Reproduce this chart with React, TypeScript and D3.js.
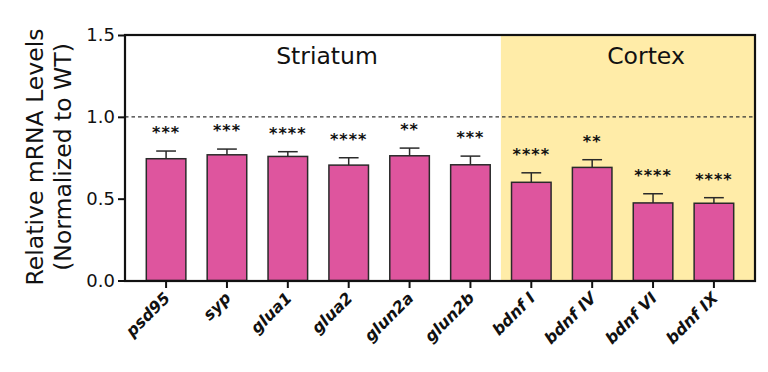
import React, { useEffect, useRef } from "react";
import * as d3 from "d3";

const genes = ["psd95", "syp", "glua1", "glua2", "glun2a", "glun2b", "bdnf I", "bdnf IV", "bdnf VI", "bdnf IX"];
const means = [0.744, 0.768, 0.758, 0.705, 0.762, 0.707, 0.6, 0.691, 0.474, 0.472];
const sems = [0.047, 0.035, 0.029, 0.045, 0.047, 0.053, 0.058, 0.047, 0.056, 0.034];
const stars = ["***", "***", "****", "****", "**", "***", "****", "**", "****", "****"];
const yTicks = [0, 0.5, 1.0, 1.5];
const regionNames = ["Striatum", "Cortex"];

const W = 768;
const H = 372;
const margin = { top: 35, right: 13, bottom: 91, left: 125 };
const font = "'DejaVu Sans', Verdana, sans-serif";

function App() {
  const svgRef = useRef(null);

  useEffect(() => {
    const svg = d3.select(svgRef.current);
    svg.selectAll("*").remove();

    const x0 = margin.left;
    const x1 = W - margin.right;
    const y0 = H - margin.bottom;
    const y1 = margin.top;

    const x = d3.scaleBand().domain(genes).range([x0, x1]).paddingInner(0.35).paddingOuter(0.35);
    const y = d3.scaleLinear().domain([0, 1.5]).range([y0 - 0.5, y1]);

    // cortex shading starts halfway between glun2b and bdnf I
    const split = (x("glun2b") + x.bandwidth() + x("bdnf I")) / 2;
    svg
      .append("rect")
      .attr("x", split)
      .attr("y", y1)
      .attr("width", x1 - split)
      .attr("height", y0 - y1)
      .attr("fill", "#FFECA8");

    svg
      .append("line")
      .attr("x1", x0)
      .attr("x2", x1)
      .attr("y1", y(1))
      .attr("y2", y(1))
      .attr("stroke", "#333")
      .attr("stroke-width", 1.3)
      .attr("stroke-dasharray", "3.5,3");

    // error bars (upper only)
    const eb = svg.append("g").attr("stroke", "#2a2a2a").attr("stroke-width", 1.5);
    genes.forEach((g, i) => {
      const cx = x(g) + x.bandwidth() / 2;
      eb.append("line").attr("x1", cx).attr("x2", cx).attr("y1", y(means[i])).attr("y2", y(means[i] + sems[i]));
      eb.append("line")
        .attr("x1", cx - x.bandwidth() / 4)
        .attr("x2", cx + x.bandwidth() / 4)
        .attr("y1", y(means[i] + sems[i]))
        .attr("y2", y(means[i] + sems[i]));
    });

    svg
      .append("g")
      .selectAll("rect")
      .data(genes)
      .join("rect")
      .attr("x", (d) => x(d))
      .attr("y", (d, i) => y(means[i]))
      .attr("width", x.bandwidth())
      .attr("height", (d, i) => y(0) - y(means[i]))
      .attr("fill", "#DE559E")
      .attr("stroke", "#2a2a2a")
      .attr("stroke-width", 1.5);

    svg
      .append("g")
      .selectAll("text")
      .data(genes)
      .join("text")
      .attr("x", (d) => x(d) + x.bandwidth() / 2)
      .attr("y", (d, i) => y(means[i] + sems[i]) - 13)
      .attr("text-anchor", "middle")
      .attr("font-family", font)
      .attr("font-size", 16)
      .attr("font-weight", "bold")
      .attr("fill", "#111")
      .attr("letter-spacing", 1)
      .text((d, i) => stars[i]);

    // frame
    svg
      .append("rect")
      .attr("x", x0)
      .attr("y", y1)
      .attr("width", x1 - x0)
      .attr("height", y0 - y1)
      .attr("fill", "none")
      .attr("stroke", "#111")
      .attr("stroke-width", 2.2);

    const yAxis = svg
      .append("g")
      .attr("transform", `translate(${x0},0)`)
      .call(d3.axisLeft(y).tickValues(yTicks).tickFormat(d3.format(".1f")).tickSize(7).tickPadding(3));
    yAxis.select(".domain").remove();
    yAxis.selectAll("line").attr("stroke", "#111").attr("stroke-width", 2);
    yAxis.selectAll("text").attr("font-family", font).attr("font-size", 18).attr("fill", "#111");

    const xAxis = svg
      .append("g")
      .attr("transform", `translate(0,${y0})`)
      .call(d3.axisBottom(x).tickSize(7).tickPadding(4));
    xAxis.select(".domain").remove();
    xAxis.selectAll("line").attr("stroke", "#111").attr("stroke-width", 2);
    xAxis
      .selectAll("text")
      .attr("font-family", font)
      .attr("font-size", 16)
      .attr("font-weight", "bold")
      .attr("font-style", "italic")
      .attr("fill", "#111")
      .attr("text-anchor", "end")
      .attr("x", 0)
      .attr("y", 0)
      .attr("dy", 0)
      .attr("transform", "translate(5,18) rotate(-45)");

    svg
      .append("text")
      .attr("x", 327)
      .attr("y", 64)
      .attr("text-anchor", "middle")
      .attr("font-family", font)
      .attr("font-size", 23.5)
      .attr("fill", "#111")
      .text(regionNames[0]);
    svg
      .append("text")
      .attr("x", 646)
      .attr("y", 64)
      .attr("text-anchor", "middle")
      .attr("font-family", font)
      .attr("font-size", 23.5)
      .attr("fill", "#111")
      .text(regionNames[1]);

    const lbl = svg
      .append("text")
      .attr("transform", `translate(43,157) rotate(-90)`)
      .attr("text-anchor", "middle")
      .attr("font-family", font)
      .attr("font-size", 23.5)
      .attr("fill", "#111");
    lbl.append("tspan").attr("x", 0).attr("y", 0).text("Relative mRNA Levels");
    lbl.append("tspan").attr("x", 0).attr("y", 28).text("(Normalized to WT)");
  }, []);

  return (
    <div style={{ margin: -8 }}>
      <svg ref={svgRef} width={W} height={H} style={{ display: "block", background: "#fff" }} />
    </div>
  );
}

export default App;
